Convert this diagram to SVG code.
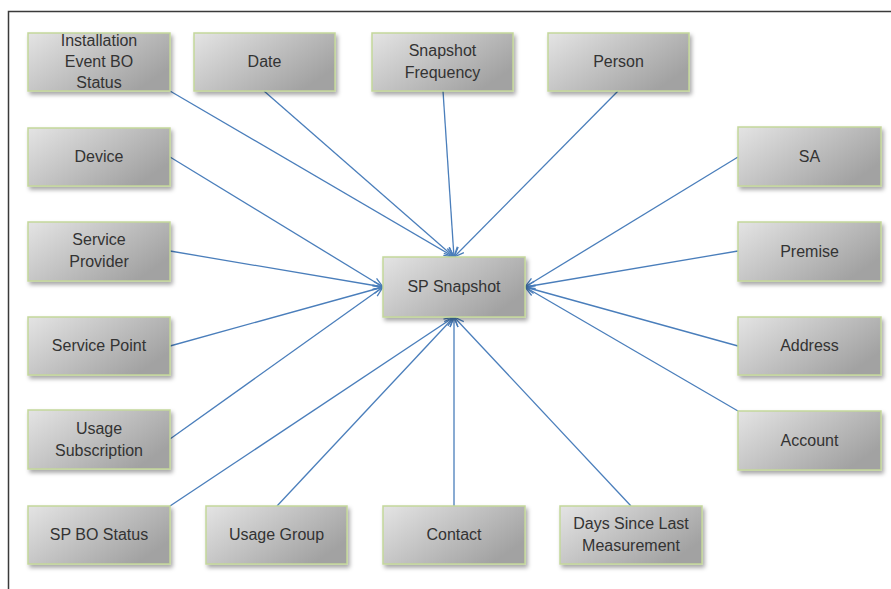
<svg xmlns="http://www.w3.org/2000/svg" width="891" height="589" viewBox="0 0 891 589">
<defs>
<linearGradient id="g" x1="0" y1="0" x2="1" y2="0.6">
<stop offset="0" stop-color="#e4e4e4"/>
<stop offset="1" stop-color="#a2a2a2"/>
</linearGradient>
<filter id="sh" x="-10%" y="-10%" width="125%" height="140%">
<feDropShadow dx="2" dy="3" stdDeviation="2" flood-color="#000" flood-opacity="0.35"/>
</filter>
<marker id="arr" markerUnits="userSpaceOnUse" markerWidth="12" markerHeight="10" refX="11" refY="5" orient="auto">
<path d="M1,1 L11,5 L1,9" fill="none" stroke="#4a7ebb" stroke-width="1.3"/>
</marker>
</defs>
<style>
.box{fill:url(#g);stroke:#c4d79a;stroke-width:1.5;filter:url(#sh)}
.t{font-family:"Liberation Sans",Arial,sans-serif;font-size:16px;fill:#333;text-anchor:middle}
.c{stroke:#4a7ebb;stroke-width:1.3;fill:none;marker-end:url(#arr)}
</style>
<rect width="891" height="589" fill="#fff"/>
<path d="M8.5 589 V11.5 H891" fill="none" stroke="#3a3a3a" stroke-width="1.5"/>
<g id="connectors">
<line class="c" x1="170" y1="91" x2="454" y2="257"/>
<line class="c" x1="264" y1="91" x2="454" y2="257"/>
<line class="c" x1="443" y1="91" x2="454" y2="257"/>
<line class="c" x1="618" y1="91" x2="454" y2="257"/>
<line class="c" x1="170" y1="157" x2="383" y2="287"/>
<line class="c" x1="170" y1="251" x2="383" y2="287"/>
<line class="c" x1="170" y1="346" x2="383" y2="287"/>
<line class="c" x1="170" y1="439" x2="383" y2="287"/>
<line class="c" x1="170" y1="506" x2="454" y2="317"/>
<line class="c" x1="277" y1="506" x2="454" y2="317"/>
<line class="c" x1="454" y1="506" x2="454" y2="317"/>
<line class="c" x1="631" y1="506" x2="454" y2="317"/>
<line class="c" x1="738" y1="157" x2="525" y2="287"/>
<line class="c" x1="738" y1="251" x2="525" y2="287"/>
<line class="c" x1="738" y1="346" x2="525" y2="287"/>
<line class="c" x1="738" y1="411" x2="525" y2="287"/>
</g>
<g id="installation"><rect class="box" x="28" y="33" width="142" height="58"/><text class="t" x="99" y="46">Installation</text><text class="t" x="99" y="67">Event BO</text><text class="t" x="99" y="88">Status</text></g>
<g id="date"><rect class="box" x="194" y="33" width="141" height="58"/><text class="t" x="264.5" y="67">Date</text></g>
<g id="snapshot-frequency"><rect class="box" x="372" y="33" width="141" height="58"/><text class="t" x="442.5" y="56">Snapshot</text><text class="t" x="442.5" y="78">Frequency</text></g>
<g id="person"><rect class="box" x="548" y="33" width="141" height="58"/><text class="t" x="618.5" y="67">Person</text></g>
<g id="device"><rect class="box" x="28" y="128" width="142" height="58"/><text class="t" x="99" y="162">Device</text></g>
<g id="service-provider"><rect class="box" x="28" y="222" width="142" height="59"/><text class="t" x="99" y="245">Service</text><text class="t" x="99" y="267">Provider</text></g>
<g id="service-point"><rect class="box" x="28" y="317" width="142" height="58"/><text class="t" x="99" y="351">Service Point</text></g>
<g id="usage-subscription"><rect class="box" x="28" y="410" width="142" height="59"/><text class="t" x="99" y="434">Usage</text><text class="t" x="99" y="456">Subscription</text></g>
<g id="sp-bo-status"><rect class="box" x="28" y="506" width="142" height="58"/><text class="t" x="99" y="540">SP BO Status</text></g>
<g id="usage-group"><rect class="box" x="206" y="506" width="141" height="58"/><text class="t" x="276.5" y="540">Usage Group</text></g>
<g id="contact"><rect class="box" x="383" y="506" width="142" height="58"/><text class="t" x="454" y="540">Contact</text></g>
<g id="days-since-last-measurement"><rect class="box" x="560" y="506" width="142" height="58"/><text class="t" x="631" y="529">Days Since Last</text><text class="t" x="631" y="551">Measurement</text></g>
<g id="sa"><rect class="box" x="738" y="127" width="143" height="59"/><text class="t" x="809.5" y="162">SA</text></g>
<g id="premise"><rect class="box" x="738" y="222" width="143" height="59"/><text class="t" x="809.5" y="257">Premise</text></g>
<g id="address"><rect class="box" x="738" y="317" width="143" height="58"/><text class="t" x="809.5" y="351">Address</text></g>
<g id="account"><rect class="box" x="738" y="411" width="143" height="59"/><text class="t" x="809.5" y="446">Account</text></g>
<g id="sp-snapshot"><rect class="box" x="383" y="257" width="142" height="60"/><text class="t" x="454" y="292">SP Snapshot</text></g>
</svg>
